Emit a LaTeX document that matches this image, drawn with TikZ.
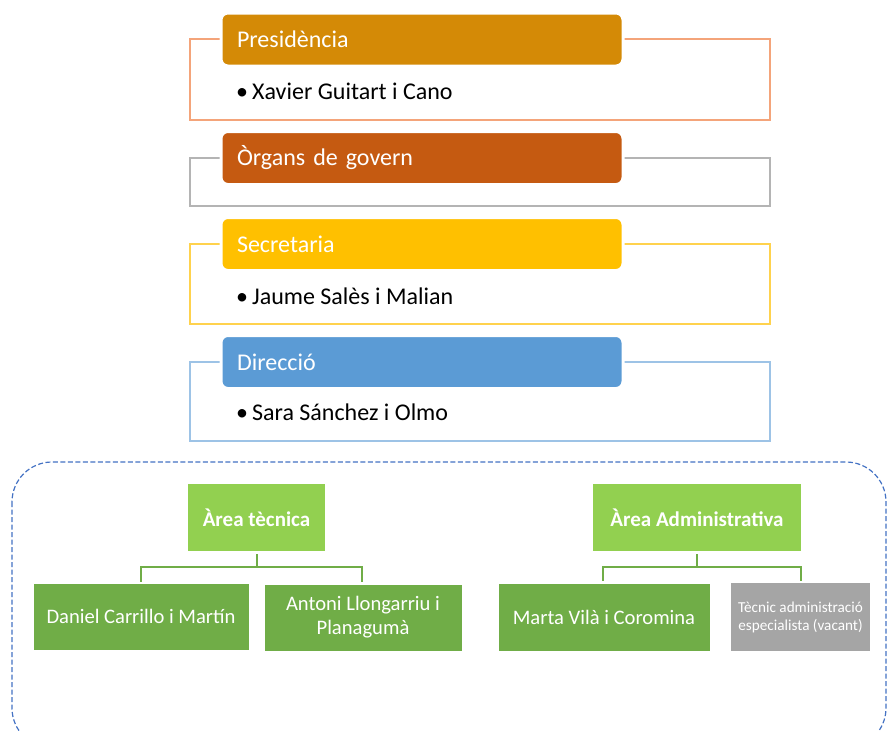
\documentclass[tikz,border=0pt]{standalone}
\usepackage{fontspec}
\setmainfont{Carlito}
\usetikzlibrary{calc}
\definecolor{presi}{HTML}{D48A06}
\definecolor{presiline}{HTML}{F4A47A}
\definecolor{organs}{HTML}{C55A11}
\definecolor{organsline}{HTML}{B4B4B4}
\definecolor{secr}{HTML}{FFC000}
\definecolor{secrline}{HTML}{FFD24D}
\definecolor{direc}{HTML}{5B9BD5}
\definecolor{direcline}{HTML}{9DC3E6}
\definecolor{lgreen}{HTML}{92D050}
\definecolor{dgreen}{HTML}{70AD47}
\definecolor{vgray}{HTML}{A5A5A5}
\definecolor{dashblue}{HTML}{4472C4}
\tikzset{
  frame/.style={draw=#1, line width=1.2pt, rectangle, inner sep=0pt},
  header/.style={fill=#1, draw=white, line width=3pt, rounded corners=7pt, inner sep=0pt,
    minimum width=402pt, minimum height=53pt, text=white, font=\fontsize{24}{28}\selectfont,
    text width=370pt, align=left},
  bullet/.style={anchor=west, inner sep=0pt, font=\fontsize{24}{28}\selectfont},
  area/.style={fill=lgreen, inner sep=0pt, text=white, font=\bfseries\fontsize{21}{24}\selectfont, align=center},
  person/.style={fill=dgreen, draw=white, line width=0.8pt, inner sep=0pt, text=white, font=\fontsize{20.6}{24}\selectfont, align=center},
  vacant/.style={fill=vgray, inner sep=0pt, text=white, font=\fontsize{15.2}{18}\selectfont, align=center},
  link/.style={draw=dgreen, line width=2pt}
}
\begin{document}
\begin{tikzpicture}[x=1pt,y=-1pt]
\useasboundingbox (0,0) rectangle (887,731);
\fill[white] (0,0) rectangle (887,731);

% Presidencia
\node[frame=presiline, minimum width=580pt, minimum height=81pt] (f1) at (480,79.5) {};
\node[header=presi] (h1) at (422,39.5) {Presidència};
\node[bullet] (b1) at (236,91) {\textbullet\,Xavier Guitart i Cano};

% Organs de govern
\node[frame=organsline, minimum width=580pt, minimum height=48pt] (f2) at (480,182) {};
\node[header=organs] (h2) at (422,158) {Òrgans de govern};

% Secretaria
\node[frame=secrline, minimum width=580pt, minimum height=80pt] (f3) at (480,284) {};
\node[header=secr] (h3) at (422,244) {Secretaria};
\node[bullet] (b3) at (236,296) {\textbullet\,Jaume Salès i Malian};

% Direccio
\node[frame=direcline, minimum width=580pt, minimum height=79pt] (f4) at (480,401.5) {};
\node[header=direc] (h4) at (422,362) {Direcció};
\node[bullet] (b4) at (236,412) {\textbullet\,Sara Sánchez i Olmo};

% Dashed container
\draw[dashblue, dash pattern=on 5pt off 2.5pt, line width=1.2pt, rounded corners=40pt] (12,462) rectangle (886,748);

% Area tecnica
\node[area, minimum width=137pt, minimum height=67pt] (at) at (256.5,517.5) {Àrea tècnica};
\node[person, minimum width=216pt, minimum height=67pt] (p1) at (141,616.5) {Daniel Carrillo i Martín};
\node[person, minimum width=198pt, minimum height=67pt] (p2) at (363,617.5) {Antoni Llongarriu i\\Planagumà};
\coordinate (jt) at (256,567);
\draw[link] (at.south) ++(0,3) |- (141,567) -- (141,582);
\draw[link] (jt) -| (362,582);

% Area administrativa
\node[area, minimum width=208pt, minimum height=67pt] (aa) at (697,517.5) {Àrea Administrativa};
\node[person, minimum width=212pt, minimum height=68pt] (p3) at (604,617) {Marta Vilà i Coromina};
\node[vacant, minimum width=139pt, minimum height=68pt] (p4) at (800.5,617) {Tècnic administració\\especialista (vacant)};
\coordinate (ja) at (697,567);
\draw[link] (aa.south) ++(0,3) |- (603,567) -- (603,581);
\draw[link] (ja) -| (801,581);
\end{tikzpicture}
\end{document}
